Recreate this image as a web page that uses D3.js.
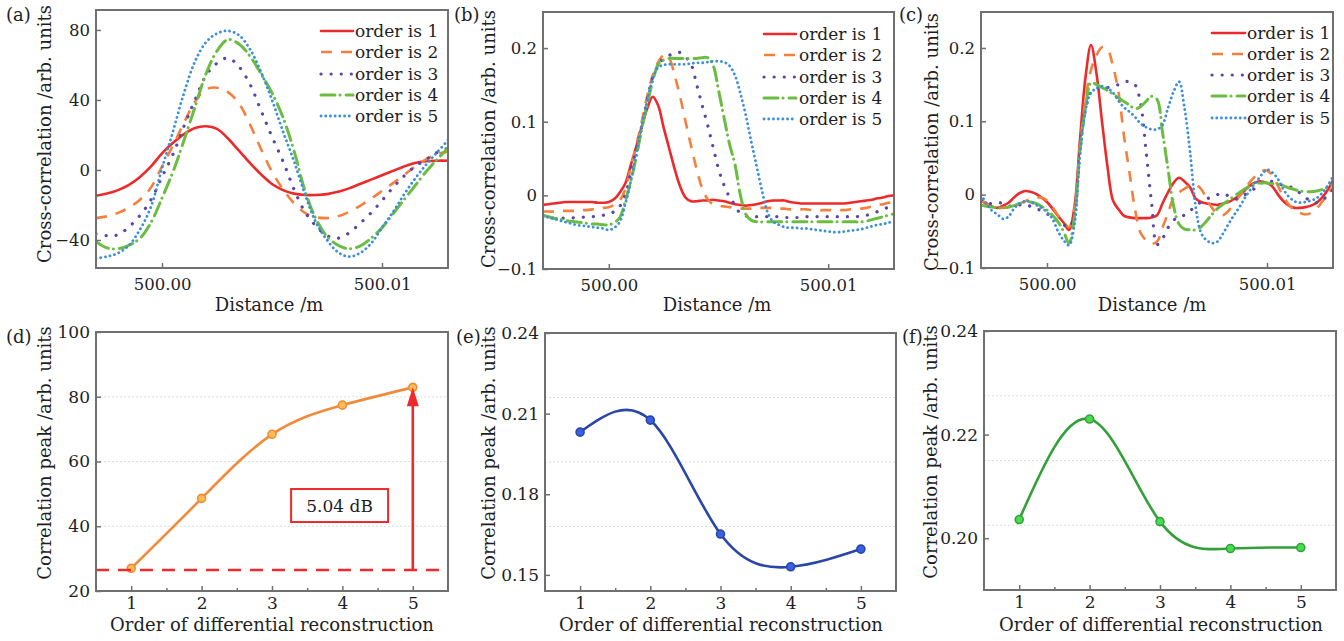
<!DOCTYPE html>
<html><head><meta charset="utf-8">
<script src="https://cdn.jsdelivr.net/npm/d3@7"></script>
<style>
html,body{margin:0;padding:0;background:#fff;}
svg{display:block;}
</style></head><body>
<svg id="chart" width="1344" height="641"></svg>
<script>
// ---------------- DATA ----------------
const seriesNames = ["order is 1","order is 2","order is 3","order is 4","order is 5"];

const distanceA = [499.9970,499.9975,499.9980,499.9985,499.9990,499.9995,500.0000,500.0005,500.0010,500.0015,500.0020,500.0025,500.0030,500.0035,500.0040,500.0045,500.0050,500.0055,500.0060,500.0065,500.0070,500.0075,500.0080,500.0085,500.0090,500.0095,500.0100,500.0105,500.0110,500.0115,500.0120,500.0125,500.0130];

const a1 = [-14.7,-13.5,-11.5,-8.5,-4,2,9.5,15.5,20.5,24,25,23.5,18,11,4,-2.5,-8,-11.5,-13.5,-14.3,-14.3,-13.8,-12.5,-10.5,-8,-5.5,-3,-0.5,2,4,5,5.3,5.3];
const a2 = [-27.5,-26.5,-24.5,-21.5,-17,-10,2,14,27,39,46,47,44.5,38,26,12,-1,-11,-19,-24.5,-27,-27.5,-26.5,-24,-20.5,-16.5,-12,-7.5,-3,2,6,9,10.5];
const a3 = [-36.5,-37.5,-37,-32.5,-26,-17,-4,9,25,40,54,61,64,59,49,34,19,5,-11,-24,-32,-37.5,-39,-36,-30.5,-24.5,-17.5,-10,-3.5,2,6,10,12.5];
const a4 = [-41,-44.5,-45,-43,-39,-30,-16,-1,17,36,55,68,74.5,72,65,55,44,30,11,-12,-28,-38,-43,-45,-43.5,-39,-33,-25,-17,-9,-1,6,12.5];
const a5 = [-50.5,-49.5,-47.5,-43,-34,-21,1,22,44,62,73,78,79.5,77,69,56,40,22,5,-14,-30,-40,-47,-49.5,-47.5,-42,-33,-24,-14,-5,3,10,17];

const distanceBC = [499.99700,499.99725,499.99750,499.99775,499.99800,499.99825,499.99850,499.99875,499.99900,499.99925,499.99950,499.99975,
 500.00000,500.00025,500.00050,500.00075,500.00100,500.00125,500.00150,500.00175,500.00200,500.00225,500.00250,500.00275,
 500.00300,500.00325,500.00350,500.00375,500.00400,500.00425,500.00450,500.00475,500.00500,500.00525,500.00550,500.00575,
 500.00600,500.00625,500.00650,500.00675,500.00700,500.00725,500.00750,500.00775,500.00800,500.00825,500.00850,500.00875,
 500.00900,500.00925,500.00950,500.00975,500.01000,500.01025,500.01050,500.01075,500.01100,500.01125,500.01150,500.01175,
 500.01200,500.01225,500.01250,500.01275,500.01300];

const b1 = [-0.013,-0.012,-0.011,-0.010,-0.009,-0.009,-0.009,-0.009,-0.009,-0.009,-0.010,-0.010,-0.009,
 -0.005,0.004,0.016,0.041,0.066,0.093,0.118,0.134,
 0.122,0.092,0.064,0.036,0.012,-0.003,
 -0.008,-0.008,-0.007,-0.007,-0.006,-0.007,-0.008,-0.010,-0.012,-0.013,-0.014,-0.013,-0.012,-0.010,-0.008,-0.007,-0.007,-0.007,-0.009,-0.010,-0.011,-0.011,-0.011,-0.011,-0.011,-0.011,-0.011,-0.011,-0.011,-0.010,-0.009,-0.008,-0.007,-0.006,-0.004,-0.003,-0.001,0.000];
const b2 = [-0.022,-0.022,-0.022,-0.021,-0.021,-0.021,-0.021,-0.020,-0.020,-0.019,-0.018,-0.017,-0.016,-0.013,-0.007,
 0.008,0.038,0.068,0.100,0.135,0.163,0.181,0.190,0.186,0.163,0.134,0.100,0.067,0.036,0.010,-0.005,-0.012,-0.014,-0.015,
 -0.016,-0.017,-0.018,-0.018,-0.018,-0.017,-0.017,-0.017,-0.017,-0.018,-0.018,-0.019,-0.019,-0.019,-0.019,-0.020,-0.020,-0.020,-0.020,-0.020,-0.020,-0.020,-0.019,-0.019,-0.018,-0.017,-0.015,-0.013,-0.012,-0.010,-0.009];
const b3 = [-0.029,-0.030,-0.031,-0.031,-0.031,-0.031,-0.030,-0.030,-0.029,-0.029,-0.028,-0.027,-0.025,-0.022,-0.015,
 0.001,0.031,0.063,0.094,0.130,0.160,0.176,0.186,0.190,0.193,0.194,0.188,0.178,0.151,0.123,0.096,0.066,0.036,0.014,-0.002,-0.013,-0.025,
 -0.028,-0.029,-0.029,-0.029,-0.029,-0.029,-0.029,-0.030,-0.030,-0.030,-0.030,-0.029,-0.029,-0.029,-0.029,-0.029,-0.029,-0.029,-0.029,-0.029,-0.029,-0.028,-0.027,-0.025,-0.022,-0.019,-0.016,-0.013];
const b4 = [-0.027,-0.029,-0.031,-0.032,-0.034,-0.035,-0.036,-0.037,-0.038,-0.039,-0.039,-0.040,-0.040,-0.037,-0.030,
 -0.008,0.019,0.052,0.090,0.124,0.155,0.178,0.184,0.186,0.186,0.186,0.186,0.186,0.186,0.187,0.187,0.177,0.143,0.106,0.070,0.042,0.000,-0.026,
 -0.034,
 -0.036,-0.036,-0.036,-0.036,-0.036,-0.036,-0.036,-0.036,-0.036,-0.036,
 -0.036,-0.036,-0.036,-0.036,-0.036,-0.036,-0.036,-0.036,-0.036,-0.036,
 -0.035,-0.033,-0.031,-0.029,-0.027,-0.025];
const b5 = [-0.027,-0.030,-0.032,-0.034,-0.036,-0.038,-0.040,-0.041,-0.042,-0.043,-0.044,-0.045,-0.047,-0.044,-0.036,
 -0.012,0.019,0.056,0.094,0.128,0.158,0.174,0.177,0.178,0.178,0.178,0.178,0.179,0.180,0.180,0.181,0.182,0.182,0.181,0.176,0.163,0.138,0.108,0.072,0.038,0.004,-0.024,-0.036,
 -0.040,-0.043,-0.044,-0.044,-0.045,-0.045,-0.046,-0.047,-0.048,-0.049,-0.050,-0.050,-0.049,-0.048,-0.047,-0.046,-0.044,-0.042,-0.040,-0.039,-0.037,-0.036];

const c1 = [-0.007,-0.013,-0.016,-0.018,-0.015,-0.011,-0.004,0.002,0.005,0.004,0.001,-0.004,-0.010,-0.019,-0.029,-0.038,-0.048,
 -0.016,0.075,0.160,0.204,0.165,0.100,0.038,-0.008,-0.020,-0.029,-0.031,-0.032,-0.032,-0.032,-0.031,-0.028,-0.012,0.003,
 0.016,0.023,0.018,0.010,-0.005,-0.010,-0.012,-0.013,-0.014,-0.012,-0.010,-0.006,-0.001,0.006,0.013,0.017,0.018,0.016,0.011,0.000,-0.009,-0.015,-0.018,-0.018,-0.017,-0.015,-0.011,-0.004,0.006,0.020];
const c2 = [-0.007,-0.012,-0.016,-0.018,-0.018,-0.017,-0.015,-0.012,-0.009,-0.006,-0.004,-0.004,-0.008,-0.017,-0.028,-0.037,-0.044,
 -0.020,0.065,0.130,0.170,0.190,0.201,0.198,0.175,0.140,0.080,0.030,-0.020,-0.052,-0.062,-0.067,-0.064,
 -0.045,-0.025,-0.005,0.003,0.008,0.012,0.013,0.008,-0.005,-0.018,-0.026,-0.028,-0.022,-0.012,-0.002,0.008,0.018,0.026,0.032,0.033,0.026,0.012,-0.003,-0.014,-0.021,-0.025,-0.027,-0.025,-0.019,-0.010,0.000,0.010];
const c3 = [-0.008,-0.012,-0.012,-0.011,-0.012,-0.015,-0.016,-0.014,-0.013,-0.016,-0.019,-0.022,-0.026,-0.031,-0.036,-0.041,-0.045,
 -0.025,0.060,0.115,0.140,0.145,0.145,0.146,0.148,0.150,0.154,0.154,0.150,0.125,0.060,-0.010,-0.068,
 -0.060,-0.045,-0.035,-0.030,-0.028,-0.022,-0.016,-0.010,-0.006,-0.003,0.000,0.002,-0.002,-0.006,-0.004,0.000,0.004,0.010,0.016,0.018,0.018,0.016,0.012,0.011,0.008,0.002,-0.004,-0.009,-0.011,-0.008,-0.001,0.007];
const c4 = [-0.014,-0.016,-0.017,-0.018,-0.018,-0.017,-0.015,-0.012,-0.010,-0.010,-0.012,-0.016,-0.021,-0.028,-0.037,-0.050,-0.066,
 -0.030,0.060,0.118,0.153,0.150,0.146,0.142,0.137,0.132,0.127,0.122,0.117,0.120,0.127,0.134,0.130,0.085,0.035,-0.015,-0.040,
 -0.047,-0.048,-0.048,-0.044,-0.036,-0.027,-0.019,-0.013,-0.008,-0.002,0.003,0.008,0.012,0.015,0.016,0.016,0.015,0.014,0.012,0.009,0.007,0.005,0.004,0.004,0.005,0.007,0.010,0.014];
const c5 = [0.000,-0.012,-0.022,-0.027,-0.033,-0.030,-0.019,-0.012,-0.009,-0.010,-0.014,-0.018,-0.024,-0.033,-0.050,-0.062,-0.069,
 -0.040,0.055,0.115,0.139,0.145,0.148,0.145,0.139,0.128,0.119,0.113,0.106,0.097,0.092,0.089,0.089,0.095,0.118,0.140,0.154,
 0.118,0.059,-0.015,-0.052,-0.062,-0.066,-0.064,-0.053,-0.040,-0.028,-0.017,-0.004,0.007,0.017,0.027,0.034,0.030,0.021,0.007,-0.003,-0.009,-0.011,-0.010,-0.008,-0.005,0.002,0.012,0.025];

const xTicksTop = [500.00, 500.01];
const xTickLabelsTop = ["500.00","500.01"];
const yTicksA = [-40,0,40,80];
const yTickLabelsA = ["\u221240","0","40","80"];
const yTicksBC = [-0.1,0,0.1,0.2];
const yTickLabelsBC = ["\u22120.1","0","0.1","0.2"];

const orders = [1,2,3,4,5];
const peakD = [27.0,48.6,68.4,77.4,82.9];
const peakE = [0.2031,0.2076,0.1652,0.1530,0.1596];
const peakF = [0.2036,0.2230,0.2032,0.1980,0.1982];
const yTicksD = [20,40,60,80,100];
const yTickLabelsD = ["20","40","60","80","100"];
const yTicksE = [0.15,0.18,0.21,0.24];
const yTickLabelsE = ["0.15","0.18","0.21","0.24"];
const yTicksF = [0.20,0.22,0.24];
const yTickLabelsF = ["0.20","0.22","0.24"];
const gridD = [40,60,80];
const gridE = [0.168,0.192,0.216];
const gridF = [0.2025,0.215,0.2275];
const baselineD = 26.5;           // order-1 level (dashed line)
const gainLabel = "5.04 dB";

// ---------------- STYLE ----------------
const FONT = "'DejaVu Serif', serif";
const FRAME = "#707070";
const TXT = "#1e1e1e";
const seriesColors = ["#ec2a2c","#f5803e","#5e44a5","#6bbd42","#3b8fdc"];
const seriesWidth = [2.6,2.6,3.2,3,2.8];
const seriesDash = [null,"11,9","0.1,10","14,5,0.1,6","0.1,4.6"];
const seriesCap = ["round","butt","round","round","round"];

const svg = d3.select("#chart");

function styleAxis(s, fs){
  s.select(".domain").remove();
  s.attr("font-family", FONT).attr("font-size", fs);
  s.selectAll(".tick line").attr("stroke", FRAME).attr("stroke-width", 1.5);
  s.selectAll(".tick text").attr("fill", TXT);
}

function frame(p){
  svg.append("rect").attr("x",p.L).attr("y",p.T).attr("width",p.R-p.L).attr("height",p.B-p.T)
    .attr("fill","none").attr("stroke",FRAME).attr("stroke-width",2);
}

function texts(p){
  svg.append("text").attr("x",p.labX).attr("y",p.labY).attr("font-family",FONT).attr("font-size",18).attr("fill",TXT).text(p.label);
  svg.append("text").attr("transform",`translate(${p.ytX},${p.ytY}) rotate(-90)`).attr("text-anchor","middle")
    .attr("font-family",FONT).attr("font-size",18).attr("fill",TXT).text(p.yTitle);
  svg.append("text").attr("x",p.xtX).attr("y",p.xtY).attr("text-anchor","middle")
    .attr("font-family",FONT).attr("font-size",18).attr("fill",TXT).text(p.xTitle);
}

function drawTop(p){
  const x = d3.scaleLinear().domain([499.997,500.013]).range([p.L,p.R]);
  const y = d3.scaleLinear().domain(p.yDomain).range([p.B,p.T]);
  svg.append("clipPath").attr("id","clip"+p.key).append("rect")
    .attr("x",p.L).attr("y",p.T).attr("width",p.R-p.L).attr("height",p.B-p.T);
  const line = d3.line().x((d,i)=>x(p.dist[i])).y(d=>y(d)).curve(d3.curveCatmullRom.alpha(0.5));
  const gl = svg.append("g").attr("clip-path",`url(#clip${p.key})`);
  p.series.forEach((s,k)=>{
    gl.append("path").attr("d",line(s)).attr("fill","none").attr("stroke",seriesColors[k])
      .attr("stroke-width",seriesWidth[k]).attr("stroke-dasharray",seriesDash[k])
      .attr("stroke-linecap",seriesCap[k]).attr("stroke-linejoin","round");
  });
  frame(p);
  svg.append("g").attr("transform",`translate(0,${p.B})`)
    .call(d3.axisBottom(x).tickValues(xTicksTop).tickFormat((d,i)=>xTickLabelsTop[i]).tickSize(-5).tickPadding(10))
    .call(s=>styleAxis(s,16.5));
  svg.append("g").attr("transform",`translate(${p.L},0)`)
    .call(d3.axisLeft(y).tickValues(p.yTicks).tickFormat((d,i)=>p.yLabels[i]).tickSize(-5).tickPadding(6))
    .call(s=>styleAxis(s,16.5));
  // legend
  const lg = svg.append("g");
  seriesNames.forEach((n,k)=>{
    const yy = p.legRows[k];
    lg.append("line").attr("x1",p.legX1).attr("x2",p.legX2).attr("y1",yy).attr("y2",yy)
      .attr("stroke",seriesColors[k]).attr("stroke-width",seriesWidth[k]).attr("stroke-dasharray",seriesDash[k])
      .attr("stroke-linecap",seriesCap[k]);
    lg.append("text").attr("x",p.legTX).attr("y",yy).attr("dy","0.36em").attr("font-family",FONT)
      .attr("font-size",17).attr("fill",TXT).text(n);
  });
  texts(p);
}

function drawBottom(p){
  const x = d3.scaleLinear().domain([0.5,5.5]).range([p.L,p.R]);
  const y = d3.scaleLinear().domain(p.yDomain).range([p.B,p.T]);
  p.grid.forEach(v=>{
    svg.append("line").attr("x1",p.L).attr("x2",p.R).attr("y1",y(v)).attr("y2",y(v))
      .attr("stroke","#dcdcdc").attr("stroke-width",1).attr("stroke-dasharray","2,2");
  });
  const line = d3.line().x((d,i)=>x(orders[i])).y(d=>y(d)).curve(d3.curveNatural);
  svg.append("path").attr("d",line(p.values)).attr("fill","none").attr("stroke",p.color).attr("stroke-width",2.6);
  svg.append("g").selectAll("circle").data(p.values).join("circle")
    .attr("cx",(d,i)=>x(orders[i])).attr("cy",d=>y(d)).attr("r",4)
    .attr("fill",d3.color(p.color).brighter(0.9)).attr("stroke",p.color).attr("stroke-width",1.6);
  if (p.extra) p.extra(x,y);
  frame(p);
  svg.append("g").attr("transform",`translate(0,${p.B})`)
    .call(d3.axisBottom(x).tickValues(orders).tickFormat(d3.format("d")).tickSize(-5).tickPadding(6))
    .call(s=>styleAxis(s,17));
  svg.append("g").attr("transform",`translate(0,${p.B})`)
    .call(d3.axisBottom(x).tickValues([1.5,2.5,3.5,4.5]).tickFormat("").tickSize(-3))
    .call(s=>styleAxis(s,17));
  svg.append("g").attr("transform",`translate(${p.L},0)`)
    .call(d3.axisLeft(y).tickValues(p.yTicks).tickFormat((d,i)=>p.yLabels[i]).tickSize(-5).tickPadding(6))
    .call(s=>styleAxis(s,17));
  texts(p);
}

// ---------------- PANELS ----------------
const topTitle = "Cross-correlation /arb. units";
const botTitle = "Correlation peak /arb. units";

drawTop({key:"a",L:96,R:448,T:10,B:268,yDomain:[-56,91.4],yTicks:yTicksA,yLabels:yTickLabelsA,
  dist:distanceA,series:[a1,a2,a3,a4,a5],legX1:321,legX2:353,legTX:355,legRows:[31,52,74,95,116],
  label:"(a)",labX:6,labY:21,yTitle:topTitle,ytX:51,ytY:134,xTitle:"Distance /m",xtX:269,xtY:311});
drawTop({key:"b",L:543,R:894,T:12,B:269,yDomain:[-0.1,0.249],yTicks:yTicksBC,yLabels:yTickLabelsBC,
  dist:distanceBC,series:[b1,b2,b3,b4,b5],legX1:764,legX2:796,legTX:799,legRows:[34,55,77,98,119],
  label:"(b)",labX:454,labY:21,yTitle:topTitle,ytX:495,ytY:139,xTitle:"Distance /m",xtX:717,xtY:311});
drawTop({key:"c",L:981,R:1333,T:12,B:268,yDomain:[-0.1,0.249],yTicks:yTicksBC,yLabels:yTickLabelsBC,
  dist:distanceBC,series:[c1,c2,c3,c4,c5],legX1:1212,legX2:1245,legTX:1247,legRows:[33,54,75,96,118],
  label:"(c)",labX:899,labY:21,yTitle:topTitle,ytX:938,ytY:142,xTitle:"Distance /m",xtX:1152,xtY:311});

drawBottom({L:96,R:448,T:332,B:591,yDomain:[20,100],yTicks:yTicksD,yLabels:yTickLabelsD,grid:gridD,
  values:peakD,color:"#f28a3c",label:"(d)",labX:6,labY:343,yTitle:botTitle,ytX:51,ytY:453,
  xTitle:"Order of differential reconstruction",xtX:272,xtY:631,
  extra:(x,y)=>{
    const red="#ee2a2c";
    svg.append("line").attr("x1",96).attr("x2",448).attr("y1",y(baselineD)).attr("y2",y(baselineD))
      .attr("stroke",red).attr("stroke-width",2.6).attr("stroke-dasharray","13,9");
    const ax = x(orders[4]), tip = y(peakD[4]);
    svg.append("line").attr("x1",ax).attr("x2",ax).attr("y1",y(baselineD)).attr("y2",tip+14)
      .attr("stroke",red).attr("stroke-width",2.6);
    svg.append("path").attr("d",`M${ax},${tip} L${ax-6},${tip+19} L${ax+6},${tip+19} Z`).attr("fill",red);
    const bx = x(3.96), by = y(46.4);
    svg.append("rect").attr("x",bx-48.5).attr("y",by-16.5).attr("width",97).attr("height",33)
      .attr("fill","#fff").attr("stroke",red).attr("stroke-width",2);
    svg.append("text").attr("x",bx).attr("y",by).attr("dy","0.36em").attr("text-anchor","middle")
      .attr("font-family",FONT).attr("font-size",17).attr("fill",TXT).text(gainLabel);
  }});
drawBottom({L:545,R:896,T:333,B:591,yDomain:[0.144,0.24],yTicks:yTicksE,yLabels:yTickLabelsE,grid:gridE,
  values:peakE,color:"#2a46a6",label:"(e)",labX:456,labY:343,yTitle:botTitle,ytX:495,ytY:453,
  xTitle:"Order of differential reconstruction",xtX:721,xtY:631});
drawBottom({L:984,R:1336,T:331,B:590,yDomain:[0.19,0.24],yTicks:yTicksF,yLabels:yTickLabelsF,grid:gridF,
  values:peakF,color:"#34a03a",label:"(f)",labX:902,labY:343,yTitle:botTitle,ytX:937,ytY:452,
  xTitle:"Order of differential reconstruction",xtX:1161,xtY:631});
</script></body></html>
